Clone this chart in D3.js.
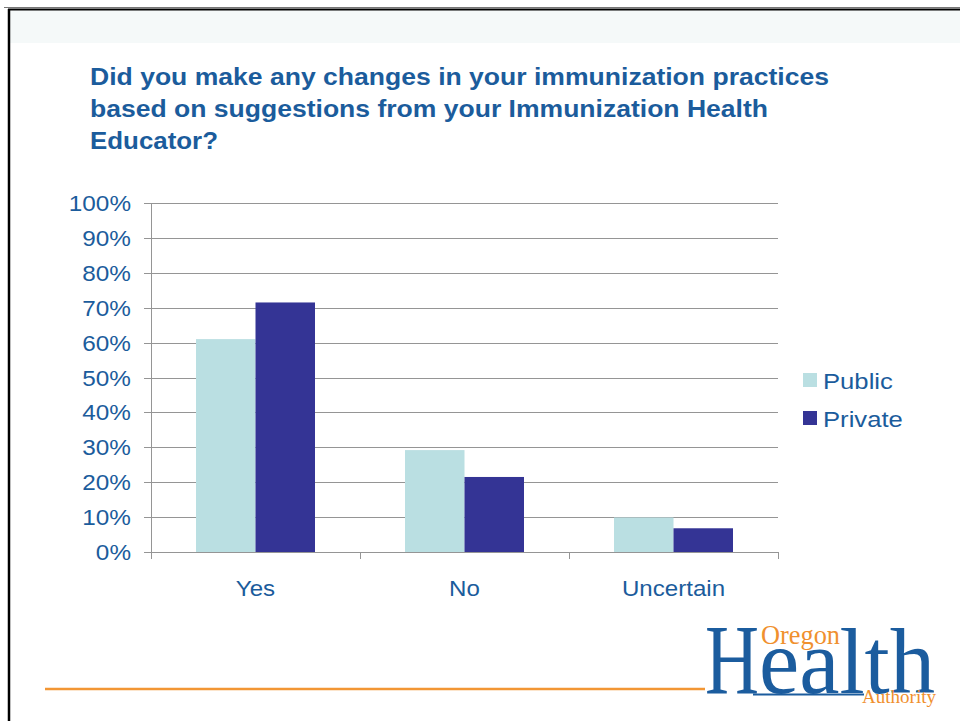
<!DOCTYPE html>
<html>
<head>
<meta charset="utf-8">
<script src="https://cdn.jsdelivr.net/npm/d3@7"></script>
<style>
  body { margin: 0; background: #fff; }
  svg { display: block; font-family: "Liberation Sans", Arial, sans-serif; }
</style>
</head>
<body>
<div id="chart"></div>
<script>
const categories = ["Yes", "No", "Uncertain"];
const seriesNames = ["Public", "Private"];
const publicValues = [0.61, 0.292, 0.099];
const privateValues = [0.715, 0.215, 0.068];
const yTicks = [0, 0.1, 0.2, 0.3, 0.4, 0.5, 0.6, 0.7, 0.8, 0.9, 1];
const titleLines = [
  "Did you make any changes in your immunization practices",
  "based on suggestions from your Immunization Health",
  "Educator?"
];
const titleWidths = [739, 678, 128];

const colors = { Public: "#badfe2", Private: "#343495" };
const textBlue = "#1b5c9c";

const width = 960;
const height = 721;

const svg = d3.select("#chart").append("svg").attr("width", width).attr("height", height);

// text in the slide is a bit wider than plain Arial
function widen(sel, factor) {
  sel.each(function () {
    const len = this.getComputedTextLength();
    d3.select(this).attr("textLength", len * factor).attr("lengthAdjust", "spacingAndGlyphs");
  });
}

// slide frame and header band
svg.append("rect").attr("x", 10).attr("y", 10).attr("width", width - 10).attr("height", 33).attr("fill", "#f5f9f9");
svg.append("line").attr("x1", 4).attr("x2", width).attr("y1", 7.5).attr("y2", 7.5).attr("stroke", "#777").attr("stroke-width", 1);
svg.append("line").attr("x1", 8).attr("x2", width).attr("y1", 9.5).attr("y2", 9.5).attr("stroke", "#000").attr("stroke-width", 2);
svg.append("line").attr("x1", 9).attr("x2", 9).attr("y1", 9).attr("y2", height).attr("stroke", "#000").attr("stroke-width", 2.5);

// title
svg.append("g")
  .selectAll("text")
  .data(titleLines)
  .enter()
  .append("text")
  .attr("x", 90)
  .attr("y", (d, i) => 85 + i * 32)
  .attr("fill", textBlue)
  .attr("font-size", 23)
  .attr("font-weight", "bold")
  .attr("textLength", (d, i) => titleWidths[i])
  .attr("lengthAdjust", "spacingAndGlyphs")
  .text((d) => d);

// scales
const x = d3.scaleBand().domain(categories).range([151, 778]);
const xSub = d3.scaleBand().domain(seriesNames).range([x.bandwidth() / 2 - 59.5, x.bandwidth() / 2 + 59.5]);
const y = d3.scaleLinear().domain([0, 1]).range([552, 203]);

// gridlines
svg.append("g")
  .selectAll("line")
  .data(yTicks)
  .enter()
  .append("line")
  .attr("x1", 144)
  .attr("x2", 778)
  .attr("y1", (d) => Math.round(y(d)) + 0.5)
  .attr("y2", (d) => Math.round(y(d)) + 0.5)
  .attr("stroke", "#959595")
  .attr("stroke-width", 1);

// y labels
svg.append("g")
  .selectAll("text")
  .data(yTicks)
  .enter()
  .append("text")
  .attr("x", 131)
  .attr("y", (d) => y(d) + 8)
  .attr("text-anchor", "end")
  .attr("fill", textBlue)
  .attr("font-size", 21.5)
  .text((d) => d3.format(".0%")(d))
  .call(widen, 1.13);

// bars
const rows = categories.map((c, i) => ({ category: c, Public: publicValues[i], Private: privateValues[i] }));
const groups = svg.append("g")
  .selectAll("g")
  .data(rows)
  .enter()
  .append("g")
  .attr("transform", (d) => `translate(${x(d.category)},0)`);
groups.selectAll("rect")
  .data((d) => seriesNames.map((s) => ({ key: s, value: d[s] })))
  .enter()
  .append("rect")
  .attr("x", (d) => xSub(d.key))
  .attr("width", xSub.bandwidth())
  .attr("y", (d) => y(d.value))
  .attr("height", (d) => y(0) - y(d.value))
  .attr("fill", (d) => colors[d.key]);

// axes lines
svg.append("line").attr("x1", 151.5).attr("x2", 151.5).attr("y1", 203).attr("y2", 559).attr("stroke", "#959595");
svg.append("line").attr("x1", 144).attr("x2", 778).attr("y1", 552.5).attr("y2", 552.5).attr("stroke", "#959595");
const catEdges = categories.map((c) => x(c) + x.bandwidth());
svg.append("g")
  .selectAll("line")
  .data(catEdges)
  .enter()
  .append("line")
  .attr("x1", (d) => Math.round(d) + 0.5)
  .attr("x2", (d) => Math.round(d) + 0.5)
  .attr("y1", 552)
  .attr("y2", 559)
  .attr("stroke", "#959595");

// category labels
svg.append("g")
  .selectAll("text")
  .data(categories)
  .enter()
  .append("text")
  .attr("x", (d) => x(d) + x.bandwidth() / 2)
  .attr("y", 596)
  .attr("text-anchor", "middle")
  .attr("fill", textBlue)
  .attr("font-size", 21.5)
  .text((d) => d)
  .call(widen, 1.12);

// legend
const legend = svg.append("g")
  .selectAll("g")
  .data(seriesNames)
  .enter()
  .append("g")
  .attr("transform", (d, i) => `translate(803,${373 + i * 38})`);
legend.append("rect").attr("width", 14).attr("height", 14).attr("fill", (d) => colors[d]);
legend.append("text")
  .attr("x", 20)
  .attr("y", 16)
  .attr("fill", textBlue)
  .attr("font-size", 22.5)
  .text((d) => d)
  .call(widen, 1.14);

// footer line
svg.append("line").attr("x1", 45).attr("x2", 705).attr("y1", 689).attr("y2", 689).attr("stroke", "#f29634").attr("stroke-width", 2.5);

// logo
const logo = svg.append("g").attr("font-family", "'Liberation Serif', 'DejaVu Serif', serif");
const logoBlue = "#1b5c9e";
const logoOrange = "#f0902e";
logo.append("text").attr("x", 705).attr("y", 693).attr("font-size", 100).attr("fill", logoBlue)
  .attr("textLength", 54).attr("lengthAdjust", "spacingAndGlyphs").text("H");
logo.append("text").attr("x", 759).attr("y", 693).attr("font-size", 94).attr("fill", logoBlue)
  .attr("textLength", 176).attr("lengthAdjust", "spacingAndGlyphs").text("ealth");
logo.append("line").attr("x1", 753).attr("x2", 864).attr("y1", 694.5).attr("y2", 694.5).attr("stroke", logoBlue).attr("stroke-width", 2);
logo.append("text").attr("x", 761).attr("y", 644).attr("font-size", 27).attr("fill", logoOrange)
  .attr("textLength", 79).attr("lengthAdjust", "spacingAndGlyphs").text("Oregon");
logo.append("text").attr("x", 862).attr("y", 703).attr("font-size", 18).attr("fill", logoOrange)
  .attr("textLength", 74).attr("lengthAdjust", "spacingAndGlyphs").text("Authority");
</script>
</body>
</html>
